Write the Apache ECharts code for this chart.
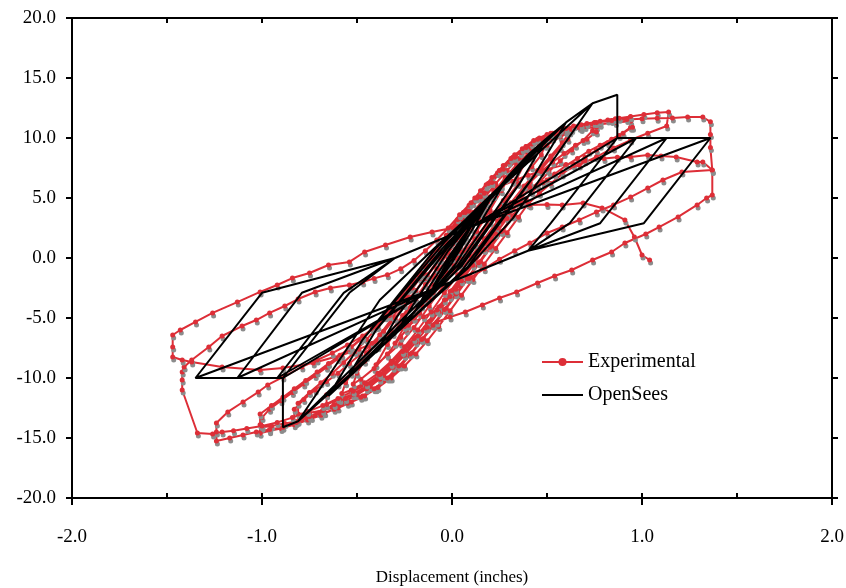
<!DOCTYPE html>
<html>
<head>
<meta charset="utf-8">
<script src="https://cdn.jsdelivr.net/npm/echarts@6/dist/echarts.min.js"></script>
<style>html,body{margin:0;padding:0;background:#fff;}#c{width:846px;height:588px;}</style>
</head>
<body>
<div id="c"></div>
<script>
// Axis ranges / ticks
const xRange = [-2, 2];
const yRange = [-20, 20];
const seriesNames = ['Experimental', 'OpenSees'];

// ---------- Experimental (displacement in, force) ----------
const expSmallCycles = [
[0,0],[0.04,1.2],[0.08,2.2],[0.1,2.9],[0.07,1.8],[0.03,0.6],[-0.02,-0.6],[-0.06,-1.6],[-0.1,-2.6],[-0.07,-1.6],[-0.03,-0.5],[0.02,0.7],[0.06,1.8],[0.1,2.8],[0.14,3.7],[0.18,4.6],[0.2,5.1],[0.16,4.0],[0.1,2.5],[0.04,1.0],[-0.02,-0.6],[-0.08,-2.0],[-0.14,-3.5],[-0.2,-5.0],[-0.16,-4.0],[-0.1,-2.5],[-0.04,-1.0],[0.03,0.8],[0.1,2.5],[0.17,4.2],[0.23,5.6],[0.28,6.6],[0.31,7.1],[0.26,5.6],[0.2,4.0],[0.13,2.2],[0.05,0.5],[-0.03,-1.2],[-0.1,-2.9],[-0.17,-4.6],[-0.24,-6.0],[-0.3,-7.1],[-0.25,-5.7],[-0.18,-4.0],[-0.1,-2.2],[-0.02,-0.4],[0.06,1.5],[0.14,3.3],[0.22,5.2],[0.29,6.7],[0.35,7.7],[0.4,8.4],[0.34,6.6],[0.27,4.8],[0.2,3.0],[0.12,1.2],[0.04,-0.5],[-0.04,-2.2],[-0.12,-4.0],[-0.2,-5.8],[-0.27,-7.1],[-0.34,-8.1],[-0.4,-8.9],[-0.34,-7.2],[-0.27,-5.3],[-0.19,-3.4],[-0.1,-1.6],[-0.02,0.0],[0.07,1.9],[0.15,3.8],[0.23,5.6],[0.3,7.0],[0.37,8.1],[0.43,8.9],[0.49,9.4],
[0.47,8.6],[0.42,7.6],[0.35,6.2],[0.28,4.8],[0.2,3.2],[0.12,1.6],[0.04,0.0],[-0.04,-1.6],[-0.12,-3.3],[-0.2,-5.0],[-0.27,-6.6],[-0.34,-8.0],[-0.41,-9.2],[-0.48,-10.1],[-0.52,-10.5],
[-0.5,-9.6],[-0.45,-8.2],[-0.38,-6.6],[-0.3,-5.0],[-0.22,-3.3],[-0.14,-1.7],[-0.06,-0.1],[0.02,1.5],[0.1,3.1],[0.18,4.6],[0.26,6.0],[0.34,7.3],[0.42,8.4],[0.5,9.4],[0.57,10.1],[0.62,10.5]
];
const expSmallCycles2 = [
[0.58,9.6],[0.52,8.5],[0.45,7.3],[0.38,6.0],[0.31,4.6],[0.24,3.1],[0.17,1.6],[0.1,0.1],[0.03,-1.4],[-0.04,-2.9],[-0.11,-4.5],[-0.18,-6.0],[-0.25,-7.4],[-0.32,-8.6],[-0.39,-9.6],[-0.46,-10.4],[-0.53,-11.0],[-0.58,-11.3],
[-0.56,-10.4],[-0.51,-9.2],[-0.45,-7.9],[-0.38,-6.4],[-0.31,-4.9],[-0.24,-3.3],[-0.17,-1.7],[-0.1,-0.1],[-0.03,1.5],[0.04,3.1],[0.11,4.6],[0.18,6.0],[0.25,7.3],[0.32,8.4],[0.39,9.3],[0.46,10.0],[0.53,10.4],[0.6,10.6]
];
const expCycle1 = [
[0.61,9.9],[0.57,9.2],[0.52,8.3],[0.47,7.4],[0.41,6.3],[0.35,5.0],[0.29,3.7],[0.23,2.4],[0.17,1.1],[0.11,-0.2],[0.05,-1.5],[-0.01,-2.8],[-0.07,-4.1],[-0.13,-5.4],[-0.19,-6.6],[-0.25,-7.8],[-0.31,-8.9],[-0.38,-9.9],[-0.45,-10.7],[-0.52,-11.3],[-0.59,-11.8],[-0.66,-12.2],
[-0.66,-11.4],[-0.6,-10.5],[-0.53,-9.6],[-0.46,-8.6],[-0.39,-7.4],[-0.32,-6.1],[-0.26,-4.8],[-0.2,-3.5],[-0.14,-2.2],[-0.08,-0.9],[-0.02,0.4],[0.04,1.7],[0.1,3.0],[0.16,4.3],[0.22,5.5],[0.28,6.7],[0.34,7.8],[0.4,8.7],[0.46,9.4],[0.53,10.0],[0.6,10.5],[0.67,10.9],[0.75,11.25]
];
const expCycle1b = [
[0.74,10.6],[0.69,9.8],[0.63,9.0],[0.57,8.1],[0.51,7.2],[0.45,6.1],[0.39,4.9],[0.33,3.6],[0.27,2.3],[0.21,1.0],[0.15,-0.3],[0.09,-1.6],[0.03,-2.9],[-0.03,-4.2],[-0.09,-5.5],[-0.15,-6.7],[-0.21,-7.9],[-0.27,-9.0],[-0.33,-10.0],[-0.4,-10.9],[-0.47,-11.5],[-0.54,-12.0],[-0.61,-12.4],[-0.68,-12.7],[-0.75,-12.9],[-0.81,-13.0],
[-0.81,-12.1],[-0.75,-11.2],[-0.69,-10.4],[-0.63,-9.6],[-0.57,-8.7],[-0.51,-7.8],[-0.45,-6.8],[-0.39,-5.7],[-0.33,-4.5],[-0.27,-3.3],[-0.21,-2.0],[-0.15,-0.7],[-0.09,0.6],[-0.03,1.9],[0.03,3.2],[0.09,4.4],[0.15,5.6],[0.21,6.7],[0.27,7.7],[0.33,8.6],[0.39,9.3],[0.46,9.9],[0.53,10.3],[0.6,10.6],[0.68,10.8],[0.76,10.9]
];
const expCycle2 = [
[0.76,10.5],[0.71,9.9],[0.65,9.4],[0.59,8.7],[0.53,8.0],[0.47,7.2],[0.41,6.3],[0.36,5.1],[0.3,3.8],[0.24,2.5],[0.18,1.2],[0.12,-0.1],[0.06,-1.4],[0.0,-2.7],[-0.06,-4.0],[-0.12,-5.3],[-0.18,-6.5],[-0.24,-7.7],[-0.3,-8.8],[-0.36,-9.8],[-0.43,-10.7],[-0.5,-11.4],[-0.56,-11.9],[-0.63,-12.4],[-0.7,-12.9],[-0.77,-13.3],[-0.83,-13.6],
[-0.83,-12.6],[-0.78,-11.8],[-0.72,-11.0],[-0.66,-10.3],[-0.6,-9.6],[-0.54,-8.8],[-0.48,-8.0],[-0.42,-7.1],[-0.36,-6.1],[-0.3,-5.0],[-0.25,-3.9],[-0.19,-2.7],[-0.13,-1.4],[-0.07,-0.1],[-0.01,1.2],[0.05,2.5],[0.11,3.8],[0.17,5.0],[0.23,6.2],[0.29,7.3],[0.35,8.3],[0.41,9.1],[0.47,9.8],[0.54,10.3],[0.61,10.7],[0.68,11.0],[0.75,11.3],[0.82,11.5],[0.88,11.65],[0.94,11.75]
];
const expCycle2b = [
[0.94,10.9],[0.88,10.2],[0.82,9.6],[0.76,9.0],[0.7,8.4],[0.64,7.7],[0.58,7.0],[0.52,6.2],[0.46,5.4],[0.4,4.5],[0.35,3.4],[0.29,2.1],[0.23,0.8],[0.17,-0.5],[0.11,-1.8],[0.05,-3.1],[-0.01,-4.4],[-0.07,-5.7],[-0.13,-6.9],[-0.19,-8.0],[-0.25,-9.0],[-0.32,-10.0],[-0.39,-10.8],[-0.46,-11.5],[-0.53,-12.0],[-0.6,-12.5],[-0.67,-12.9],[-0.74,-13.3],[-0.81,-13.6],[-0.88,-13.8],[-0.95,-14.0],[-1.0,-14.1],
[-1.0,-13.3],[-0.96,-12.6],[-0.9,-11.9],[-0.84,-11.2],[-0.78,-10.5],[-0.72,-9.8],[-0.66,-9.1],[-0.6,-8.4],[-0.54,-7.6],[-0.48,-6.8],[-0.42,-5.9],[-0.36,-4.9],[-0.3,-3.8],[-0.24,-2.6],[-0.18,-1.4],[-0.12,-0.1],[-0.06,1.2],[0.0,2.5],[0.06,3.8],[0.12,5.0],[0.18,6.1],[0.24,7.1],[0.3,8.0],[0.36,8.8],[0.42,9.5],[0.49,10.0],[0.56,10.4],[0.63,10.7],[0.7,10.95],[0.78,11.15],[0.86,11.3],[0.94,11.4]
];
const expCycle3 = [
[0.95,10.9],[0.9,10.4],[0.84,9.9],[0.78,9.4],[0.72,8.9],[0.66,8.3],[0.6,7.7],[0.54,7.0],[0.48,6.3],[0.42,5.5],[0.37,4.6],[0.32,3.5],[0.26,2.2],[0.2,0.9],[0.14,-0.4],[0.08,-1.7],[0.02,-3.0],[-0.04,-4.3],[-0.1,-5.6],[-0.16,-6.8],[-0.22,-8.0],[-0.28,-9.0],[-0.34,-10.0],[-0.41,-10.9],[-0.48,-11.6],[-0.55,-12.1],[-0.62,-12.6],[-0.69,-13.1],[-0.76,-13.5],[-0.83,-13.9],[-0.9,-14.2],[-0.96,-14.4],[-1.01,-14.6],
[-1.01,-13.9],[-1.01,-13.0],[-0.95,-12.3],[-0.89,-11.6],[-0.83,-10.9],[-0.77,-10.2],[-0.71,-9.5],[-0.65,-8.8],[-0.59,-8.1],[-0.53,-7.4],[-0.47,-6.6],[-0.41,-5.8],[-0.35,-4.9],[-0.29,-3.8],[-0.23,-2.6],[-0.17,-1.4],[-0.11,-0.1],[-0.05,1.2],[0.01,2.5],[0.07,3.8],[0.13,5.0],[0.19,6.2],[0.25,7.3],[0.31,8.3],[0.37,9.1],[0.43,9.8],[0.5,10.3],[0.57,10.7],[0.64,11.0],[0.71,11.2],[0.78,11.4],[0.86,11.6],[0.94,11.8],[1.01,11.95],[1.08,12.1],[1.14,12.17]
];
const expCycle4 = [
[1.13,11.0],[1.03,10.4],[0.94,9.83],[0.85,9.17],[0.76,8.42],[0.67,7.75],[0.58,7.17],[0.5,6.5],[0.41,5.9],[0.35,4.6],[0.29,3.3],[0.23,2.0],[0.17,0.7],[0.11,-0.6],[0.05,-1.9],[-0.01,-3.2],[-0.07,-4.5],[-0.13,-5.8],[-0.19,-7.0],[-0.25,-8.1],[-0.31,-9.1],[-0.38,-10.1],[-0.45,-10.9],[-0.52,-11.4],[-0.56,-11.7],[-0.62,-12.2],[-0.68,-12.7],[-0.75,-13.2],[-0.82,-13.7],[-0.89,-14.1],[-0.96,-14.3],[-1.03,-14.5],[-1.1,-14.75],[-1.17,-15.0],[-1.24,-15.25],
[-1.24,-14.5],[-1.24,-13.75],[-1.18,-12.83],[-1.1,-12.0],[-1.02,-11.17],[-0.97,-10.58],[-0.89,-9.92],[-0.79,-9.08],[-0.71,-8.5],[-0.63,-7.92],[-0.55,-7.25],[-0.47,-6.5],[-0.4,-5.7],[-0.33,-4.8],[-0.27,-3.7],[-0.21,-2.5],[-0.15,-1.3],[-0.09,0.0],[-0.03,1.3],[0.03,2.6],[0.09,3.9],[0.15,5.1],[0.21,6.3],[0.27,7.4],[0.33,8.4],[0.39,9.2],[0.45,9.9],[0.52,10.4],[0.6,10.8],[0.68,11.1],[0.76,11.3],[0.84,11.45],[0.92,11.55],[1.0,11.6],[1.08,11.65],[1.16,11.67],[1.24,11.75],[1.32,11.75],[1.36,11.35]
];
const expCycle5 = [
[1.36,10.3],[1.36,9.2],[1.37,7.3],[1.37,5.25],[1.34,5.0],[1.29,4.42],[1.19,3.42],[1.09,2.58],[1.02,2.0],[0.91,1.25],[0.84,0.5],[0.74,-0.17],[0.63,-1.0],[0.54,-1.5],[0.45,-2.08],[0.34,-2.83],[0.25,-3.33],[0.16,-3.92],[0.07,-4.5],[-0.01,-4.92],[-0.08,-5.33],[-0.14,-5.83],[-0.2,-6.7],[-0.26,-7.8],[-0.32,-8.8],[-0.38,-9.7],[-0.45,-10.5],[-0.52,-11.1],[-0.6,-11.7],[-0.68,-12.3],[-0.76,-12.8],[-0.84,-13.3],[-0.92,-13.7],[-1.0,-14.0],[-1.08,-14.2],[-1.15,-14.4],[-1.21,-14.5],[-1.26,-14.67],[-1.34,-14.58],
[-1.42,-11.0],[-1.42,-10.17],[-1.42,-9.5],[-1.41,-9.08],[-1.37,-8.5],[-1.28,-7.42],[-1.21,-6.5],[-1.105,-5.67],[-1.03,-5.17],[-0.96,-4.58],[-0.88,-4.0],[-0.81,-3.42],[-0.72,-2.83],[-0.64,-2.5],[-0.54,-2.25],[-0.47,-2.0],[-0.41,-1.7],[-0.34,-1.4],[-0.27,-0.9],[-0.2,-0.2],[-0.14,0.6],[-0.08,1.5],[-0.02,2.5],[0.04,3.6],[0.1,4.6],[0.17,5.4],[0.24,5.9],[0.32,6.4],[0.4,6.9],[0.5,7.4],[0.6,7.8],[0.7,8.1],[0.8,8.3],[0.87,8.4],[0.94,8.42],[1.03,8.58],[1.1,8.5],[1.18,8.42],[1.29,8.0],[1.32,8.0],[1.37,7.33]
];
const expCycle6 = [
[1.21,7.17],[1.11,6.5],[1.03,5.83],[0.94,5.08],[0.85,4.42],[0.76,3.83],[0.67,3.17],[0.58,2.58],[0.5,2.08],[0.41,1.25],[0.33,0.6],[0.25,-0.1],[0.17,-0.9],[0.09,-1.7],[0.02,-2.6],[-0.04,-3.5],[-0.08,-4.33],[-0.15,-4.9],[-0.23,-5.6],[-0.31,-6.3],[-0.4,-7.0],[-0.49,-7.6],[-0.58,-8.08],[-0.73,-8.75],[-0.89,-9.17],[-1.01,-9.33],[-1.21,-9.08],[-1.37,-8.67],[-1.42,-8.5],[-1.47,-8.25],[-1.47,-7.42],[-1.47,-6.42],[-1.43,-6.0],[-1.35,-5.33],[-1.26,-4.58],[-1.13,-3.67],[-1.01,-2.83],[-0.92,-2.25],[-0.84,-1.67],[-0.75,-1.25],[-0.65,-0.58],[-0.54,-0.33],[-0.46,0.5],[-0.35,1.08],[-0.22,1.75],[-0.105,2.17],[0.026,2.58],[0.1,3.2],[0.2,3.8],[0.3,4.2],[0.41,4.42],[0.5,4.45],[0.58,4.42],[0.69,4.58],[0.79,4.17],[0.91,3.17],[0.96,1.75],[1.0,0.25],[1.04,-0.17]
];

// ---------- OpenSees model ----------
const simSmallCycles = [
[0,0],
[0.1,2.6],[0.03,0.6],[-0.1,-2.4],[-0.03,-0.5],[0.1,2.6],
[0.2,4.9],[0.12,2.7],[0.0,-0.4],[-0.2,-4.6],[-0.12,-2.4],[0.0,0.5],[0.2,4.9],
[0.3,6.9],[0.2,4.3],[0.02,-0.5],[-0.3,-6.4],[-0.2,-3.8],[-0.02,0.6],[0.3,6.9],
[0.41,8.75],[0.3,5.6],[0.03,-0.6],[-0.4,-7.9],[-0.29,-4.9],[-0.03,0.7],[0.41,8.75],
[0.5,10.0],[0.36,6.3],[0.05,-0.7],[-0.54,-9.7],[-0.4,-6.0],[-0.05,0.8],[0.5,10.0],
[0.36,6.3],[0.02,-1.1],[-0.54,-9.7],[-0.4,-6.0],[-0.02,1.1],[0.5,10.0],
[0.6,11.3],[0.43,6.8],[0.08,-0.8],[-0.65,-11.5],[-0.47,-6.8],[-0.08,0.9],[0.6,11.3],
[0.43,6.8],[0.04,-1.3],[-0.65,-11.5],[-0.47,-6.8],[-0.04,1.3],[0.6,11.3],
[0.74,12.9],[0.32,3.3],[0.08,-0.9],[-0.81,-13.6],[-0.38,-3.5],[-0.08,1.0],[0.74,12.9]
];
const simLargeCycles = [
[0.87,13.6],[0.87,10.0],[0.52,2.9],[0.4,0.6],[-0.1,-2.6],[-0.81,-13.6],[-0.89,-14.1],[-0.89,-10.0],[-0.54,-2.9],[-0.3,0.0],[0.1,2.6],[0.87,10.0],[0.97,10.0],
[0.62,2.9],[0.4,0.6],[-0.1,-2.6],[-0.89,-10.0],[-0.92,-10.0],[-0.57,-2.9],[-0.3,0.0],[0.1,2.6],[0.97,10.0],[1.13,10.0],
[0.78,2.9],[0.4,0.6],[-0.1,-2.6],[-0.92,-10.0],[-1.13,-10.0],[-0.79,-2.9],[-0.3,0.0],[0.1,2.6],[1.13,10.0],[1.36,10.0],
[1.01,2.9],[0.4,0.6],[-0.1,-2.6],[-1.13,-10.0],[-1.35,-10.0],[-1.0,-2.9],[-0.3,0.0],[0.1,2.6],[1.36,10.0],
[1.01,2.9],[0.4,0.6],[-0.1,-2.6],[-1.35,-10.0],[-1.0,-2.9],[-0.3,0.0],[0.1,2.6],[1.36,10.0]
];

const experimental = [].concat(expSmallCycles, expSmallCycles2, expCycle1, expCycle1b, expCycle2, expCycle2b, expCycle3, expCycle4, expCycle5, expCycle6);
const openSees = [].concat(simSmallCycles, simLargeCycles);

const FONT = "'Liberation Serif','Times New Roman',serif";
const RED = '#dd2e37';
const fmt = v => v.toFixed(1);

const chart = echarts.init(document.getElementById('c'), null, {renderer: 'canvas'});
const axisLine = {show: true, onZero: false, lineStyle: {color: '#000', width: 2}};
const tickStyle = {color: '#000', width: 2};
const gridBox = {left: 72, right: 14, top: 18, bottom: 90, containLabel: false, outerBoundsMode: 'none'};
chart.setOption({
  animation: false,
  backgroundColor: '#fff',
  grid: [Object.assign({}, gridBox), Object.assign({}, gridBox)],
  legend: {
    data: [{name: seriesNames[0]}, {name: seriesNames[1], itemStyle: {opacity: 0}}],
    orient: 'vertical', left: 536, top: 347, padding: 5,
    itemWidth: 41, itemHeight: 10, itemGap: 13,
    textStyle: {fontFamily: FONT, fontSize: 20, color: '#000'}
  },
  xAxis: [
    {gridIndex: 0, type: 'value', position: 'bottom', min: xRange[0], max: xRange[1], interval: 1,
     axisLine, axisTick: {show: true, inside: false, length: 7, lineStyle: tickStyle},
     axisLabel: {formatter: fmt, fontFamily: FONT, fontSize: 19, color: '#000', margin: 30},
     splitLine: {show: false},
     name: 'Displacement (inches)', nameLocation: 'middle', nameGap: 71,
     nameTextStyle: {fontFamily: FONT, fontSize: 17, color: '#000'}},
    {gridIndex: 0, type: 'value', position: 'top', min: xRange[0], max: xRange[1], interval: 0.5,
     axisLine, axisTick: {show: true, inside: true, length: 5, lineStyle: tickStyle},
     axisLabel: {show: false}, splitLine: {show: false}},
    {gridIndex: 1, type: 'value', position: 'bottom', min: xRange[0], max: xRange[1], interval: 0.5,
     axisLine: {show: false, onZero: false}, axisTick: {show: true, inside: true, length: 5, lineStyle: tickStyle},
     axisLabel: {show: false}, splitLine: {show: false}}
  ],
  yAxis: [
    {gridIndex: 0, type: 'value', position: 'left', min: yRange[0], max: yRange[1], interval: 5,
     axisLine, axisTick: {show: true, inside: false, length: 6, lineStyle: tickStyle},
     axisLabel: {formatter: fmt, fontFamily: FONT, fontSize: 19, color: '#000', margin: 16},
     splitLine: {show: false}},
    {gridIndex: 0, type: 'value', position: 'right', min: yRange[0], max: yRange[1], interval: 5,
     axisLine, axisTick: {show: true, inside: false, length: 6, lineStyle: tickStyle},
     axisLabel: {show: false}, splitLine: {show: false}},
    {gridIndex: 1, type: 'value', show: false, min: yRange[0], max: yRange[1]}
  ],
  series: [
    {name: seriesNames[0], type: 'line', data: experimental, xAxisIndex: 0, yAxisIndex: 0,
     showSymbol: true, showAllSymbol: true, symbol: 'circle', symbolSize: 5,
     itemStyle: {color: RED, shadowColor: '#8c8c8c', shadowBlur: 0, shadowOffsetX: 1, shadowOffsetY: 3},
     lineStyle: {color: RED, width: 2}, z: 2, silent: true},
    {name: seriesNames[1], type: 'line', data: openSees, xAxisIndex: 0, yAxisIndex: 0,
     showSymbol: false, symbol: 'none',
     itemStyle: {color: '#000'}, lineStyle: {color: '#000', width: 2}, z: 3, silent: true}
  ]
});
</script>
</body>
</html>
